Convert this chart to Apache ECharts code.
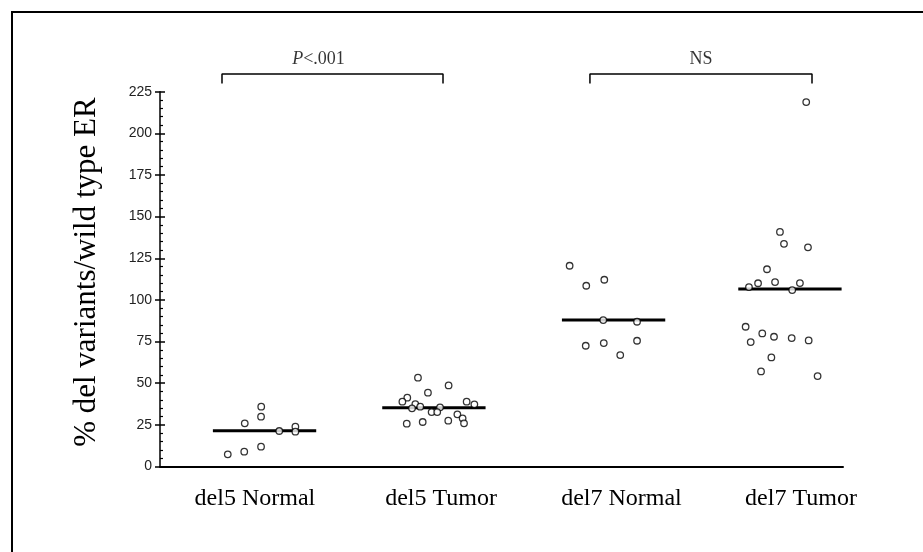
<!DOCTYPE html>
<html><head><meta charset="utf-8">
<script src="https://cdn.jsdelivr.net/npm/echarts@6/dist/echarts.min.js"></script>
<style>html,body{margin:0;padding:0;background:#fff}#c{width:923px;height:552px}</style>
</head><body><div id="c"></div>
<script>
// Group names and label anchor positions (x units on the hidden value axis)
const groups = ['del5 Normal', 'del5 Tumor', 'del7 Normal', 'del7 Tumor'];
const groupLabelX = [0.942, 2.005, 3.035, 4.06];
const groupCenters = [0.997, 1.964, 2.99, 3.997];
const medians = [21.5, 35.3, 88.0, 106.5];
const yTicks = [0, 25, 50, 75, 100, 125, 150, 175, 200, 225];

// Individual points: [jittered x, value]
const del5Normal = [[0.787,7.3],[0.881,8.9],[0.977,11.9],[0.884,25.9],[0.977,29.9],[0.978,35.9],[1.081,21.3],[1.173,23.9],[1.173,20.9]];
const del5Tumor = [[1.873,53.3],[2.048,48.7],[1.930,44.3],[1.812,41.3],[1.784,38.9],[1.858,37.5],[1.839,34.9],[1.886,35.9],[1.999,35.5],[1.951,32.7],[1.983,32.7],[2.151,38.9],[2.195,37.3],[2.098,31.3],[2.128,28.9],[2.136,25.9],[2.046,27.5],[1.900,26.7],[1.809,25.7]];
const del7Normal = [[2.739,120.5],[2.834,108.5],[2.937,112.1],[2.931,87.9],[3.124,86.9],[2.831,72.5],[2.934,74.1],[3.124,75.5],[3.028,66.9]];
const del7Tumor = [[4.090,218.8],[3.940,140.8],[3.963,133.7],[4.100,131.6],[3.866,118.4],[3.763,107.7],[3.815,110.0],[3.912,110.7],[4.054,110.1],[4.010,105.9],[3.744,83.9],[3.839,79.9],[3.773,74.7],[3.906,77.9],[4.007,77.1],[4.104,75.7],[3.891,65.5],[3.832,57.1],[4.155,54.3]];

// Significance brackets: [x start, x end], label
const bracketSpans = [[0.754, 2.016], [2.855, 4.123]];
const bracketLabels = ['P<.001', 'NS'];
const bracketTop = 235.6, bracketFoot = 229.9;

const serif = 'Liberation Serif, Times New Roman, serif';
const chart = echarts.init(document.getElementById('c'));
const halfW = 0.295;

const series = [];
[del5Normal, del5Tumor, del7Normal, del7Tumor].forEach((d, i) => {
  series.push({
    type: 'line', xAxisIndex: 0, yAxisIndex: 0, symbol: 'none', silent: true, z: 2,
    lineStyle: {color: '#000', width: 3},
    data: [[groupCenters[i] - halfW, medians[i]], [groupCenters[i] + halfW, medians[i]]]
  });
  series.push({
    type: 'scatter', xAxisIndex: 0, yAxisIndex: 0, symbol: 'circle', symbolSize: 6.5, z: 3,
    itemStyle: {color: '#fff', borderColor: '#000', borderWidth: 1.3},
    data: d
  });
});
bracketSpans.forEach((s, i) => {
  series.push({
    type: 'line', xAxisIndex: 0, yAxisIndex: 0, symbol: 'none', silent: true, clip: false,
    lineStyle: {color: '#000', width: 1.5},
    data: [[s[0], bracketFoot], [s[0], bracketTop], [s[1], bracketTop], [s[1], bracketFoot]]
  });
  series.push({
    type: 'scatter', xAxisIndex: 0, yAxisIndex: 0, symbolSize: 0, silent: true, clip: false,
    data: [[(s[0] + s[1]) / 2 - (i === 0 ? 0.08 : 0), bracketTop]],
    label: {
      show: true, position: 'top', distance: 6,
      formatter: i === 0 ? '{i|P}{n|<.001}' : '{n|NS}',
      rich: {
        i: {fontFamily: serif, fontStyle: 'italic', fontSize: 18, color: '#000'},
        n: {fontFamily: serif, fontSize: 18, color: '#000'}
      }
    }
  });
});

chart.setOption({
  animation: false,
  backgroundColor: '#fff',
  grid: {left: 160, right: 80, top: 91.7, bottom: 85.5},
  xAxis: {
    type: 'value', min: 0.4, max: 4.3, splitLine: {show: false},
    axisLine: {lineStyle: {color: '#000', width: 2}},
    axisTick: {show: false},
    axisLabel: {
      customValues: groupLabelX, margin: 20,
      fontFamily: serif, fontSize: 24, color: '#000',
      formatter: v => {
        let best = 0;
        groupLabelX.forEach((x, k) => { if (Math.abs(x - v) < Math.abs(groupLabelX[best] - v)) best = k; });
        return groups[best];
      }
    }
  },
  yAxis: [{
    type: 'value', min: 0, max: 225, interval: 25,
    splitLine: {show: false},
    axisLine: {lineStyle: {color: '#000', width: 1.5}},
    axisTick: {show: true, length: 5, lineStyle: {color: '#000', width: 1.5}},
    axisLabel: {margin: 8, fontFamily: 'Liberation Sans, Arial, sans-serif', fontSize: 14, color: '#222',
      formatter: v => yTicks.includes(v) ? String(v) : ''},
    name: '% del variants/wild type ER', nameLocation: 'middle', nameGap: 58,
    nameTextStyle: {fontFamily: serif, fontSize: 31, color: '#000', padding: [0, 0, 0, 14]}
  }, {
    type: 'value', min: 0, max: 225, interval: 25, position: 'left',
    splitLine: {show: false},
    axisLine: {show: false},
    axisTick: {show: true, inside: true, length: 5, lineStyle: {color: '#000', width: 1.5}},
    minorTick: {show: true, splitNumber: 5, length: 3, lineStyle: {color: '#000', width: 1.2}},
    axisLabel: {show: false}
  }],
  graphic: [
    {type: 'line', shape: {x1: 12, y1: 12, x2: 12, y2: 552}, style: {stroke: '#000', lineWidth: 2}},
    {type: 'line', shape: {x1: 11, y1: 12, x2: 923, y2: 12}, style: {stroke: '#000', lineWidth: 2}}
  ],
  series: series
});
</script></body></html>
